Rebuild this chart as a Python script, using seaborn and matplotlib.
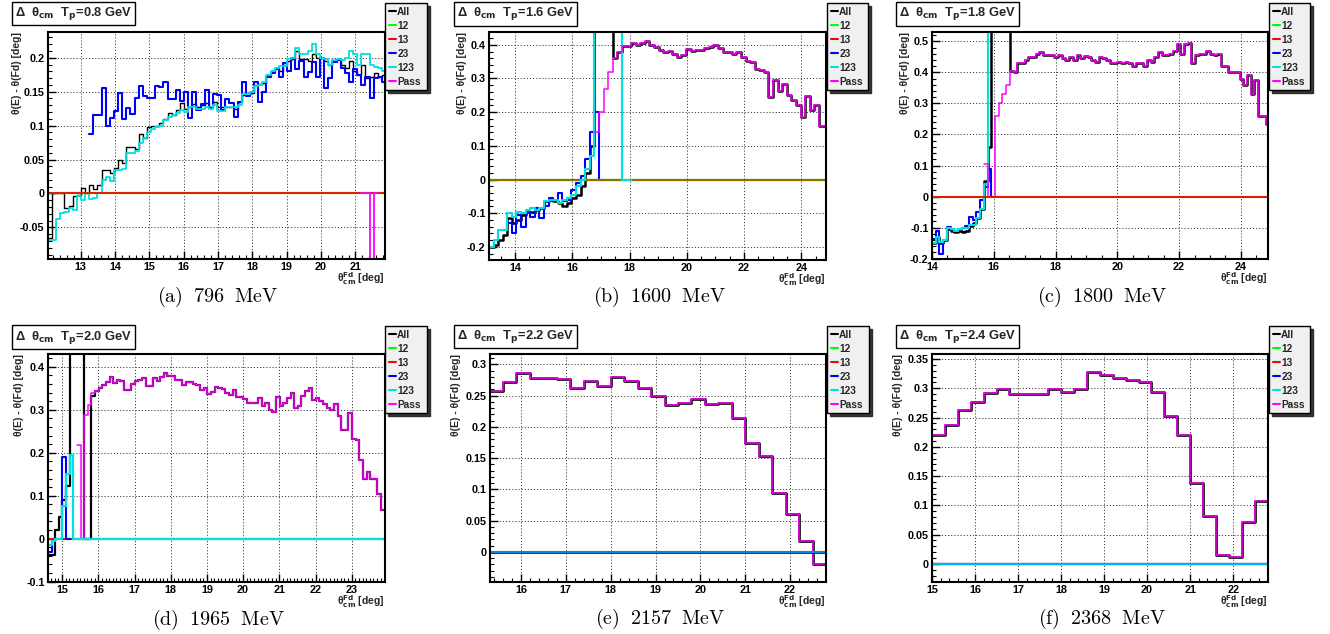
import numpy as np
import matplotlib
matplotlib.use("Agg")
import matplotlib.pyplot as plt
import seaborn as sns
from matplotlib.lines import Line2D
from matplotlib.ticker import MultipleLocator, FuncFormatter

# ---------------- data ----------------
NAMES = ["All", "12", "13", "23", "123", "Pass"]

# (a) Tp = 0.8 GeV : bins start 12.05, width 0.12
A_start, A_w, A_n = 12.05, 0.12, 82
A_all = [-0.065, 0.0, 0.0, 0.0, -0.021, -0.019, -0.004, -0.002, 0.008, 0.0, 0.012, 0.006, 0.013,
         0.035, 0.035, 0.030, 0.037, 0.050, 0.045, 0.069, 0.068, 0.066, 0.087, 0.082, 0.098, 0.099,
         0.100, 0.104, 0.110, 0.118, 0.116, 0.123, 0.133, 0.125, 0.128, 0.132, 0.128, 0.130, 0.133,
         0.128, 0.135,
         0.127, 0.127, 0.128, 0.128, 0.125, 0.135, 0.145, 0.145, 0.148, 0.160, 0.162, 0.163, 0.175,
         0.180, 0.185, 0.180, 0.190, 0.195, 0.198, 0.210, 0.198, 0.198, 0.195, 0.205, 0.200, 0.200,
         0.195, 0.190, 0.195, 0.198, 0.190, 0.185, 0.195, 0.180, 0.175, 0.190, 0.170, 0.172, 0.178,
         0.172, 0.175]
A_123 = [-0.069, -0.069, -0.037, -0.029, -0.028, -0.022, -0.024, -0.004, -0.010, 0.000, -0.008,
         -0.006, 0.000, 0.020, 0.025, 0.018, 0.035, 0.035, 0.036, 0.060, 0.060, 0.062, 0.075, 0.082,
         0.090, 0.095, 0.098, 0.100, 0.108, 0.112, 0.115, 0.118, 0.123, 0.120, 0.128, 0.128, 0.124,
         0.125, 0.128, 0.125, 0.130,
         0.122, 0.122, 0.127, 0.127, 0.128, 0.130, 0.147, 0.147, 0.150, 0.158, 0.160, 0.165, 0.175,
         0.180, 0.185, 0.188, 0.188, 0.198, 0.200, 0.215, 0.205, 0.205, 0.210, 0.220, 0.205, 0.200,
         0.198, 0.190, 0.197, 0.198, 0.196, 0.200, 0.210, 0.205, 0.190, 0.205, 0.205, 0.190, 0.186,
         0.185, 0.180]
A_23_first = 10
A_23 = [0.088, 0.115, 0.116, 0.155, 0.099, 0.111, 0.121, 0.148, 0.110, 0.126, 0.117, 0.141, 0.158,
        0.143, 0.141, 0.140, 0.159, 0.157, 0.164, 0.139, 0.139, 0.153, 0.136, 0.150, 0.111, 0.150,
        0.123, 0.132, 0.152, 0.126, 0.146,
        0.145, 0.123, 0.139, 0.133, 0.113, 0.135, 0.164, 0.143, 0.148, 0.165, 0.135, 0.150, 0.172,
        0.178, 0.184, 0.172, 0.192, 0.180, 0.200, 0.184, 0.195, 0.172, 0.179, 0.194, 0.172, 0.199,
        0.156, 0.170, 0.194, 0.196, 0.185, 0.177, 0.165, 0.184, 0.175, 0.160, 0.172, 0.140, 0.170,
        0.171, 0.165]
A_pass_first = 76
A_pass = [0.0, 0.0, -0.2, 0.0]
A_empty = [0.0] * A_n

# (b) Tp = 1.6 GeV : bins start 13.09, width 0.16
B_start, B_w, B_n = 13.09, 0.16, 74
B_tail = [0.360, 0.380, 0.395, 0.395, 0.405, 0.400, 0.405, 0.410, 0.400, 0.393, 0.385, 0.378, 0.383,
          0.373, 0.365, 0.370, 0.388, 0.383, 0.385, 0.385, 0.390, 0.393, 0.400, 0.390, 0.380, 0.378,
          0.373, 0.378, 0.363, 0.353, 0.348, 0.329, 0.324, 0.319, 0.245, 0.294, 0.264, 0.284, 0.250,
          0.235, 0.220, 0.185, 0.247, 0.205, 0.220, 0.160, 0.160]
B_all = [-0.200, -0.195, -0.180, -0.165, -0.115, -0.130, -0.120, -0.105, -0.095, -0.095, -0.090,
         -0.085, -0.065, -0.060, -0.065, -0.070, -0.078, -0.070, -0.055, -0.045, -0.020, 0.020,
         0.100, 0.60, 0.60, 0.60, 0.60] + B_tail
B_pass_first = 23
B_pass = [0.14, 0.20, 0.27, 0.32] + B_tail
B_23_first = 3
B_23 = [-0.150, -0.130, -0.160, -0.105, -0.140, -0.095, -0.110, -0.085, -0.115, -0.080, -0.055,
        -0.065, -0.040, -0.065, -0.060, -0.030, -0.010, 0.010, 0.060, 0.140, 0.200, 0.0]
B_123 = [-0.200, -0.180, -0.150, -0.150, -0.100, -0.110, -0.095, -0.100, -0.090, -0.085, -0.090,
         -0.085, -0.065, -0.060, -0.060, -0.070, -0.060, -0.055, -0.045, -0.020, 0.000, 0.030,
         0.070, 0.60, 0.60, 0.60, 0.60, 0.60, 0.60, 0.0, 0.0]
B_empty = [0.0] * B_n

# (c) Tp = 1.8 GeV : bins start 14.0, width 0.12
C_start, C_w, C_n = 14.0, 0.12, 91
C_tail = [0.405, 0.400, 0.430, 0.430, 0.440, 0.450, 0.450, 0.460, 0.465, 0.455, 0.455, 0.455, 0.450,
          0.455, 0.445, 0.440, 0.450, 0.440, 0.455, 0.445, 0.452, 0.450, 0.440, 0.435, 0.450, 0.445,
          0.440, 0.430, 0.430, 0.435, 0.430, 0.435, 0.430, 0.420, 0.430, 0.430, 0.420, 0.440, 0.435,
          0.450, 0.465, 0.455, 0.455, 0.460, 0.470, 0.490, 0.460, 0.490, 0.495, 0.430, 0.455, 0.460,
          0.460, 0.468, 0.460, 0.455, 0.460, 0.420, 0.420, 0.400, 0.400, 0.400, 0.380, 0.360, 0.390,
          0.330, 0.375, 0.260, 0.260, 0.235]
C_all = [-0.150, -0.130, -0.150, -0.140, -0.105, -0.110, -0.115, -0.110, -0.115, -0.110, -0.095,
         -0.085, -0.070, -0.040, 0.050, 0.160, 0.80, 0.80, 0.80, 0.80, 0.80] + C_tail
C_pass_first = 14
C_pass = [0.105, 0.0, 0.0, 0.26, 0.30, 0.33, 0.36] + C_tail
C_23 = [-0.135, -0.110, -0.185, -0.140, -0.098, -0.105, -0.110, -0.105, -0.100, -0.095, -0.065,
        -0.075, -0.050, -0.010, 0.030, 0.090, 0.0]
C_123 = [-0.150, -0.130, -0.145, -0.140, -0.100, -0.105, -0.110, -0.105, -0.100, -0.100, -0.090,
         -0.090, -0.070, -0.040, 0.040, 0.80, 0.80, 0.80, 0.80, 0.80, 0.80]
C_empty = [0.0] * C_n

# (d) Tp = 2.0 GeV : bins start 14.61, width 0.1
D_start, D_w, D_n = 14.61, 0.1, 93
D_pass_first = 8
D_pass = [0.218, 0.0, 0.287, 0.312, 0.340, 0.344, 0.350, 0.357, 0.365, 0.376, 0.363, 0.370, 0.368,
          0.345, 0.345, 0.360, 0.367, 0.370, 0.373, 0.355, 0.355, 0.373, 0.367, 0.376, 0.386, 0.378,
          0.378, 0.369, 0.370, 0.357, 0.365, 0.365, 0.360, 0.357, 0.347, 0.350, 0.337, 0.342, 0.352,
          0.350, 0.348, 0.340, 0.335, 0.347, 0.330, 0.330, 0.325, 0.317, 0.317, 0.317, 0.327, 0.310,
          0.317, 0.300, 0.296, 0.330, 0.310, 0.315, 0.327, 0.340, 0.304, 0.310, 0.333, 0.343, 0.350,
          0.324, 0.327, 0.320, 0.313, 0.304, 0.300, 0.314, 0.286, 0.253, 0.253, 0.292, 0.233, 0.230,
          0.183, 0.140, 0.155, 0.140, 0.140, 0.104, 0.067]
D_all = [-0.037, -0.037, 0.020, 0.050, 0.090, 0.123, 0.60, 0.60, 0.60, 0.60, 0.0, 0.0, 0.333] + D_pass[5:]
D_23 = [-0.030, -0.005, 0.0, 0.0, 0.190, 0.0]
D_123 = [-0.015, -0.005, 0.0, 0.0, 0.075, 0.150, 0.195] + [0.0] * 86
D_empty = [0.0] * D_n

# (e) Tp = 2.2 GeV : bins start 15.3, width 0.3
E_start, E_w, E_n = 15.3, 0.3, 25
E_all = [0.257, 0.272, 0.287, 0.278, 0.278, 0.276, 0.262, 0.274, 0.265, 0.280, 0.274, 0.262, 0.249,
         0.235, 0.238, 0.245, 0.236, 0.239, 0.214, 0.174, 0.153, 0.094, 0.061, 0.017, -0.019]
E_pass = E_all
E_empty = [0.0] * E_n

# (f) Tp = 2.4 GeV : bins start 15.0, width 0.3
F_start, F_w, F_n = 15.0, 0.3, 26
F_all = [0.220, 0.238, 0.263, 0.277, 0.292, 0.299, 0.291, 0.290, 0.290, 0.298, 0.293, 0.299, 0.327,
         0.322, 0.317, 0.314, 0.310, 0.293, 0.252, 0.220, 0.139, 0.082, 0.015, 0.0125, 0.071, 0.107]
F_pass = F_all
F_empty = [0.0] * F_n

COLORS = {"All": "#000000", "12": "#00ff00", "13": "#ff0000", "23": "#0000ff",
          "123": "#00e0e0", "Pass": "#ff00ff"}

panels = [
    dict(tag="(a)", mev="796", tp="0.8", start=A_start, w=A_w,
         series={"All": (0, A_all), "12": (0, A_empty), "13": (0, A_empty), "23": (A_23_first, A_23),
                 "123": (0, A_123), "Pass": (A_pass_first, A_pass)},
         order=[("All", 1.0, 1), ("23", 1.5, 1), ("123", 1.3, 1), ("12", 1.5, 1), ("13", 1.5, 0.85), ("Pass", 1.3, 1)],
         xlim=(12.05, 21.86), ylim=(-0.0966, 0.238), xmaj=1, xmin=0.2, ymaj=0.05, ymin=0.01,
         box=(48, 32, 385, 259), leg=(385, 3, 427), title=(10, 4, 130, 23), cap=(218, 297), ylx=-0.092),
    dict(tag="(b)", mev="1600", tp="1.6", start=B_start, w=B_w,
         series={"All": (0, B_all), "12": (0, B_empty), "13": (0, B_empty), "23": (B_23_first, B_23),
                 "123": (0, B_123), "Pass": (B_pass_first, B_pass)},
         order=[("All", 1.8, 1), ("23", 1.5, 1), ("12", 1.6, 1), ("13", 1.6, 0.55), ("123", 1.5, 1), ("Pass", 1.1, 1)],
         xlim=(13.09, 24.86), ylim=(-0.239, 0.438), xmaj=2, xmin=0.5, ymaj=0.1, ymin=0.02,
         box=(489, 32, 826, 260), leg=(827, 3, 868), title=(452, 5, 572, 23), cap=(659, 297), ylx=-0.08),
    dict(tag="(c)", mev="1800", tp="1.8", start=C_start, w=C_w,
         series={"All": (0, C_all), "12": (0, C_empty), "13": (0, C_empty), "23": (0, C_23),
                 "123": (0, C_123), "Pass": (C_pass_first, C_pass)},
         order=[("All", 1.8, 1), ("23", 1.5, 1), ("123", 1.5, 1), ("Pass", 1.1, 1), ("12", 1.5, 1), ("13", 1.3, 1)],
         xlim=(14.0, 24.88), ylim=(-0.201, 0.53), xmaj=2, xmin=0.5, ymaj=0.1, ymin=0.02,
         box=(932, 32, 1268, 259), leg=(1269, 3, 1310), title=(894, 5, 1014, 23), cap=(1102, 297), ylx=-0.08),
    dict(tag="(d)", mev="1965", tp="2.0", start=D_start, w=D_w,
         series={"All": (0, D_all), "12": (0, D_empty), "13": (0, D_empty), "23": (0, D_23),
                 "123": (0, D_123), "Pass": (D_pass_first, D_pass)},
         order=[("12", 1.5, 1), ("13", 1.5, 1), ("All", 1.6, 1), ("23", 1.5, 1), ("Pass", 1.1, 1), ("123", 1.6, 1)],
         xlim=(14.61, 23.92), ylim=(-0.101, 0.43), xmaj=1, xmin=0.1, ymaj=0.1, ymin=0.02,
         box=(48, 354, 385, 582), leg=(385, 326, 427), title=(10, 328, 130, 346), cap=(218, 620), ylx=-0.085),
    dict(tag="(e)", mev="2157", tp="2.2", start=E_start, w=E_w,
         series={"All": (0, E_all), "12": (0, E_empty), "13": (0, E_empty), "23": (0, E_empty),
                 "123": (0, E_empty), "Pass": (0, E_pass)},
         order=[("All", 1.9, 1), ("Pass", 1.1, 1), ("12", 1.5, 1), ("13", 1.5, 1), ("23", 2.0, 1), ("123", 1.1, 0.8)],
         xlim=(15.31, 22.80), ylim=(-0.048, 0.3166), xmaj=1, xmin=0.2, ymaj=0.05, ymin=0.01,
         box=(490, 354, 826, 582), leg=(827, 326, 869), title=(452, 327, 572, 346), cap=(660, 619), ylx=-0.1),
    dict(tag="(f)", mev="2368", tp="2.4", start=F_start, w=F_w,
         series={"All": (0, F_all), "12": (0, F_empty), "13": (0, F_empty), "23": (0, F_empty),
                 "123": (0, F_empty), "Pass": (0, F_pass)},
         order=[("All", 1.9, 1), ("Pass", 1.1, 1), ("12", 1.5, 1), ("13", 1.5, 1), ("23", 1.6, 1), ("123", 1.3, 0.9)],
         xlim=(15.0, 22.81), ylim=(-0.031, 0.3586), xmaj=1, xmin=0.2, ymaj=0.05, ymin=0.01,
         box=(932, 354, 1268, 582), leg=(1269, 326, 1310), title=(894, 327, 1014, 346), cap=(1102, 619), ylx=-0.1),
]

# ---------------- drawing ----------------
sns.set_theme(style="white")
plt.rcParams["font.family"] = ["Liberation Sans", "DejaVu Sans"]
plt.rcParams["font.weight"] = "bold"

W, H = 1330, 634
fig = plt.figure(figsize=(W / 100, H / 100), dpi=100)
fig.patch.set_facecolor("white")


def fx(px):
    return px / W


def fy(py):
    return 1 - py / H


def hist_line(ax, start, width, first, vals, color, lw, alpha):
    vals = np.asarray(vals, dtype=float)
    edges = start + width * np.arange(first, first + len(vals) + 1)
    centers = 0.5 * (edges[:-1] + edges[1:])
    sns.histplot(x=list(centers), weights=list(vals), bins=list(edges), element="step", fill=False,
                 color=color, linewidth=lw, alpha=alpha, ax=ax)


fmt = FuncFormatter(lambda v, p: "%g" % round(v, 4))

for P in panels:
    l, t, r, b = P["box"]
    ax = fig.add_axes([fx(l), fy(b), fx(r - l), (b - t) / H])
    for name, lw, alpha in P["order"]:
        first, vals = P["series"][name]
        hist_line(ax, P["start"], P["w"], first, vals, COLORS[name], lw, alpha)
    ax.set_xlim(*P["xlim"])
    ax.set_ylim(*P["ylim"])
    ax.set_xlabel("")
    ax.set_ylabel("")
    ax.xaxis.set_major_locator(MultipleLocator(P["xmaj"]))
    ax.xaxis.set_minor_locator(MultipleLocator(P["xmin"]))
    ax.yaxis.set_major_locator(MultipleLocator(P["ymaj"]))
    ax.yaxis.set_minor_locator(MultipleLocator(P["ymin"]))
    ax.xaxis.set_major_formatter(fmt)
    ax.yaxis.set_major_formatter(fmt)
    ax.tick_params(axis="both", which="both", direction="in", top=False, right=False,
                   bottom=True, left=True, labelsize=7.8, pad=2.5, colors="black")
    ax.tick_params(which="major", length=6, width=1.0)
    ax.tick_params(which="minor", length=3, width=0.8)
    ax.grid(True, which="major", linestyle=(0, (1.2, 2)), color="#404040", linewidth=0.7)
    ax.set_axisbelow(True)
    for s in ax.spines.values():
        s.set_visible(True)
        s.set_color("black")
        s.set_linewidth(1.5)
    ax.set_facecolor("white")

    # axis titles
    ax.text(P["ylx"], 1.0, "θ(E) - θ(Fd) [deg]", transform=ax.transAxes,
            rotation=90, ha="center", va="top", fontsize=7.5, fontweight="bold")
    ax.text(1.0, -0.05, r"θ$^{\mathbf{Fd}}_{\mathbf{cm}}$ [deg]", transform=ax.transAxes,
            ha="right", va="top", fontsize=7.5, fontweight="bold")

    # legend
    ll, lt, lr = P["leg"]
    handles = [Line2D([], [], color=COLORS[n], lw=1.5) for n in NAMES]
    leg = fig.legend(handles, NAMES, loc="upper left",
                     bbox_to_anchor=(fx(ll), fy(lt) - 0.2, fx(lr - ll), 0.2), mode="expand",
                     borderaxespad=0, borderpad=0.35, labelspacing=0.40, handlelength=0.7,
                     handletextpad=0.15, fontsize=7.3, frameon=True, fancybox=False,
                     shadow={"color": "#222222", "alpha": 0.9}, framealpha=1,
                     facecolor="#f0f0f0", edgecolor="black")
    leg.get_frame().set_linewidth(1.0)
    for txt in leg.get_texts():
        txt.set_fontweight("bold")

    # title box
    tl, tt, tr, tb = P["title"]
    fig.text(fx(tl + 5), fy((tt + tb) / 2),
             r"Δ  θ$_{\mathbf{cm}}$  T$_{\mathbf{p}}$=" + P["tp"] + " GeV",
             ha="left", va="center", fontsize=9.3, fontweight="bold",
             bbox=dict(boxstyle="square,pad=0.25", fc="white", ec="black", lw=1.0))

    # caption
    cx, cy = P["cap"]
    fig.text(fx(cx), fy(cy), r"$\mathrm{" + P["tag"] + r"\;\ " + P["mev"] + r"\;\ MeV}$",
             ha="center", va="center", fontsize=14.5, math_fontfamily="cm", color="black")

fig.savefig("out.png", dpi=100, facecolor="white")
